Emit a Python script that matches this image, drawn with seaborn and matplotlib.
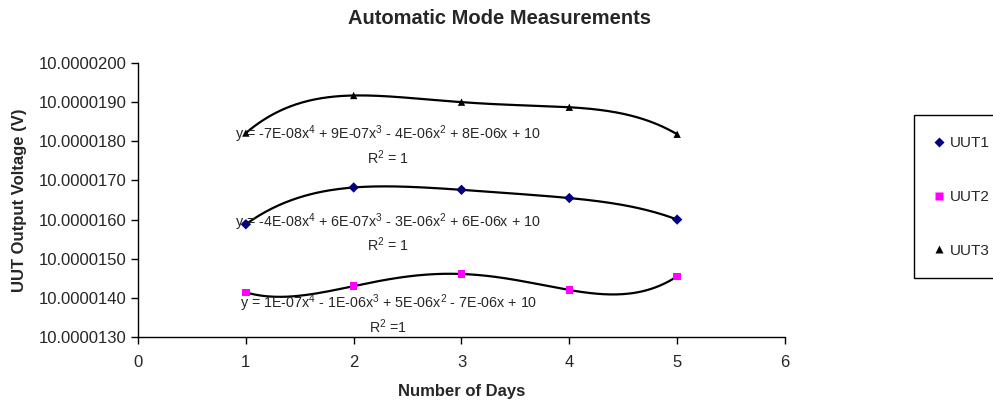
import numpy as np
import pandas as pd
import seaborn as sns
import matplotlib.pyplot as plt
from matplotlib.patches import Rectangle
from matplotlib.ticker import FuncFormatter, MultipleLocator

# Measured output voltage per unit (V)
days = [1, 2, 3, 4, 5]
uut1 = [10.00001588, 10.00001682, 10.00001676, 10.00001655, 10.00001600]
uut2 = [10.00001414, 10.00001430, 10.00001461, 10.00001420, 10.00001455]
uut3 = [10.00001821, 10.00001917, 10.00001900, 10.00001887, 10.00001818]
series_names = ['UUT1', 'UUT2', 'UUT3']

# Trendline equations as Excel printed them
equations = [
    r'y = -4E-08x$^4$ + 6E-07x$^3$ - 3E-06x$^2$ + 6E-06x + 10',
    r'y = 1E-07x$^4$ - 1E-06x$^3$ + 5E-06x$^2$ - 7E-06x + 10',
    r'y = -7E-08x$^4$ + 9E-07x$^3$ - 4E-06x$^2$ + 8E-06x + 10',
]
r2_labels = [r'R$^2$ = 1', r'R$^2$ =1', r'R$^2$ = 1']
eq_pos = [(2.32, 10.00001594), (2.32, 10.00001387), (2.32, 10.00001818)]
r2_pos = [(2.32, 10.00001535), (2.32, 10.00001326), (2.32, 10.00001757)]

palette = {'UUT1': '#000080', 'UUT2': '#FF00FF', 'UUT3': '#000000'}
markers = {'UUT1': 'D', 'UUT2': 's', 'UUT3': '^'}

df = pd.DataFrame({
    'day': days * 3,
    'volts': uut1 + uut2 + uut3,
    'series': [s for s in series_names for _ in days],
})

# 4th order polynomial trendlines (exact through 5 points)
xs = np.linspace(1, 5, 200)
trend_rows = []
for name, vals in zip(series_names, [uut1, uut2, uut3]):
    coef = np.polyfit(days, np.array(vals) - 10, 4)
    ys = np.polyval(coef, xs) + 10
    trend_rows.append(pd.DataFrame({'day': xs, 'volts': ys, 'series': name}))
trend = pd.concat(trend_rows, ignore_index=True)

sns.set_style('ticks')
plt.rcParams['font.family'] = ['Liberation Sans', 'DejaVu Sans']
plt.rcParams['mathtext.fontset'] = 'custom'
plt.rcParams['mathtext.rm'] = 'Liberation Sans'

fig = plt.figure(figsize=(9.93, 4.0), dpi=100)
ax = fig.add_axes([0.139, 0.1575, 0.6515, 0.685])

sns.lineplot(data=trend, x='day', y='volts', units='series', estimator=None,
             color='black', linewidth=1.6, ax=ax, legend=False)
sns.scatterplot(data=df, x='day', y='volts', hue='series', style='series',
                palette=palette, markers=markers, s=28, edgecolor='none',
                ax=ax, zorder=3)

for eq, (x, y) in zip(equations, eq_pos):
    ax.text(x, y, eq, ha='center', va='center', fontsize=10.3)
for r2, (x, y) in zip(r2_labels, r2_pos):
    ax.text(x, y, r2, ha='center', va='center', fontsize=10.3)

ax.set_xlim(0, 6)
ax.set_ylim(10.0000130, 10.0000200)
ax.xaxis.set_major_locator(MultipleLocator(1))
ax.yaxis.set_major_locator(MultipleLocator(1e-6))
ax.yaxis.set_major_formatter(FuncFormatter(lambda v, p: f'{v:.7f}'))
ax.tick_params(labelsize=12, length=5, width=1, color='black', direction='out')
ax.tick_params(axis='x', pad=8)

for side in ['top', 'right']:
    ax.spines[side].set_visible(False)
for side in ['left', 'bottom']:
    ax.spines[side].set_color('black')
    ax.spines[side].set_linewidth(1)

fig.text(0.503, 1 - 19 / 400, 'Automatic Mode Measurements', ha='center',
         va='center', fontsize=14.5, fontweight='bold')
ax.set_xlabel('Number of Days', fontsize=12, fontweight='bold', labelpad=10)
ax.set_ylabel('UUT Output Voltage (V)', fontsize=12, fontweight='bold', labelpad=8)

handles, labels = ax.get_legend_handles_labels()
ax.legend_.remove()
# legend frame runs past the right edge of the chart, as in the original
fig.patches.append(Rectangle((914 / 993, 1 - 278 / 400), 0.2, 163 / 400,
                             transform=fig.transFigure, fill=False,
                             edgecolor='black', linewidth=1))
fig.legend(handles, labels, loc='upper left', bbox_to_anchor=(0.920, 0.707),
           frameon=False, fontsize=11, labelspacing=2.6, borderpad=1.25,
           handlelength=0.8, handletextpad=0.3, borderaxespad=0)

fig.savefig('out.png', dpi=100)
